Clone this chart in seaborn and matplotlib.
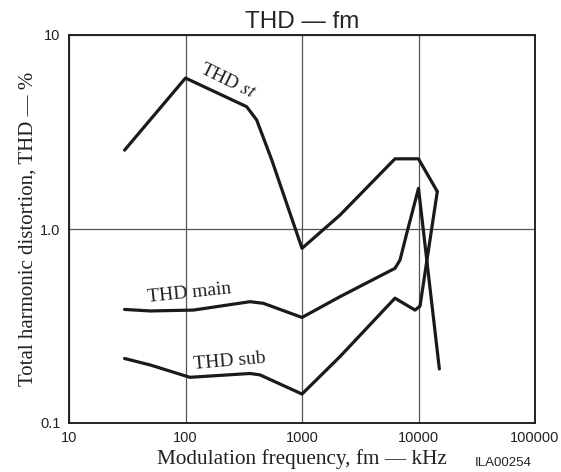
import matplotlib
matplotlib.use('Agg')
import pandas as pd
import matplotlib.pyplot as plt
import seaborn as sns

# valores (fm em kHz, THD em %)
fm_st  = [30, 100, 335, 408, 550, 1000, 2120, 6280, 10000, 14500]
thd_st = [2.55, 6.0, 4.27, 3.65, 2.27, 0.795, 1.18, 2.30, 2.30, 1.56]

fm_main  = [30, 50, 117, 358, 466, 1000, 2120, 6280, 6940, 7930, 10000, 15100]
thd_main = [0.385, 0.378, 0.382, 0.422, 0.414, 0.35, 0.448, 0.627, 0.692, 0.95, 1.62, 0.19]

fm_sub  = [30, 50, 109, 358, 436, 1000, 2120, 6280, 9330, 10300, 14500]
thd_sub = [0.215, 0.199, 0.172, 0.180, 0.177, 0.141, 0.22, 0.44, 0.382, 0.40, 1.56]

x_ticks = [10, 100, 1000, 10000, 100000]
x_tick_labels = ['10', '100', '1000', '10000', '100000']
y_ticks = [0.1, 1.0, 10]
y_tick_labels = ['0.1', '1.0', '10']

curvas = [('THD st', fm_st, thd_st),
          ('THD main', fm_main, thd_main),
          ('THD sub', fm_sub, thd_sub)]

df = pd.concat([pd.DataFrame({'curva': nome, 'fm': fm, 'thd': thd})
                for nome, fm, thd in curvas], ignore_index=True)

sns.set_style('white')
plt.rcParams['font.family'] = ['Liberation Sans', 'DejaVu Sans']
plt.rcParams['mathtext.fontset'] = 'stix'

fig = plt.figure(figsize=(5.61, 4.72), dpi=100)
ax = fig.add_axes([69/561, 1-423/472, (535-69)/561, (423-35)/472])

sns.lineplot(data=df, x='fm', y='thd', units='curva', estimator=None, sort=False,
             color='#1a1a1a', linewidth=2.3, ax=ax, legend=False)

ax.set_xscale('log')
ax.set_yscale('log')
ax.set_xlim(10, 100000)
ax.set_ylim(0.1, 10)
ax.minorticks_off()
ax.set_xticks(x_ticks, x_tick_labels)
ax.set_yticks(y_ticks, y_tick_labels)
ax.tick_params(length=0, labelsize=10.5, colors='#222222', pad=6)
ax.grid(True, color='#555555', linewidth=0.9)
for s in ax.spines.values():
    s.set_color('#222222')
    s.set_linewidth(1.4)

ax.set_title('THD — fm', fontsize=17.5, pad=5)
serif = ['Liberation Serif', 'DejaVu Serif']
ax.set_xlabel('Modulation frequency, fm — kHz', fontsize=15.3, family=serif, color='#222222')
ax.set_ylabel('Total harmonic distortion, THD — %', fontsize=15, family=serif, color='#222222')
ax.xaxis.set_label_coords(0.5, -0.068)
ax.yaxis.set_label_coords(-0.068, 0.5)

ax.text(232, 5.8, r'THD $\mathit{st}$', fontsize=14, family=serif, rotation=-26,
        ha='center', va='center', rotation_mode='anchor', color='#222222')
ax.text(107, 0.468, 'THD main', fontsize=14, family=serif, rotation=6,
        ha='center', va='center', rotation_mode='anchor', color='#222222')
ax.text(241, 0.209, 'THD sub', fontsize=14, family=serif, rotation=5,
        ha='center', va='center', rotation_mode='anchor', color='#222222')

fig.text(503.5/561, 1-463/472, 'ILA00254', fontsize=9.5, ha='center', va='center',
         color='#222222')

fig.savefig('out.png', dpi=100)
